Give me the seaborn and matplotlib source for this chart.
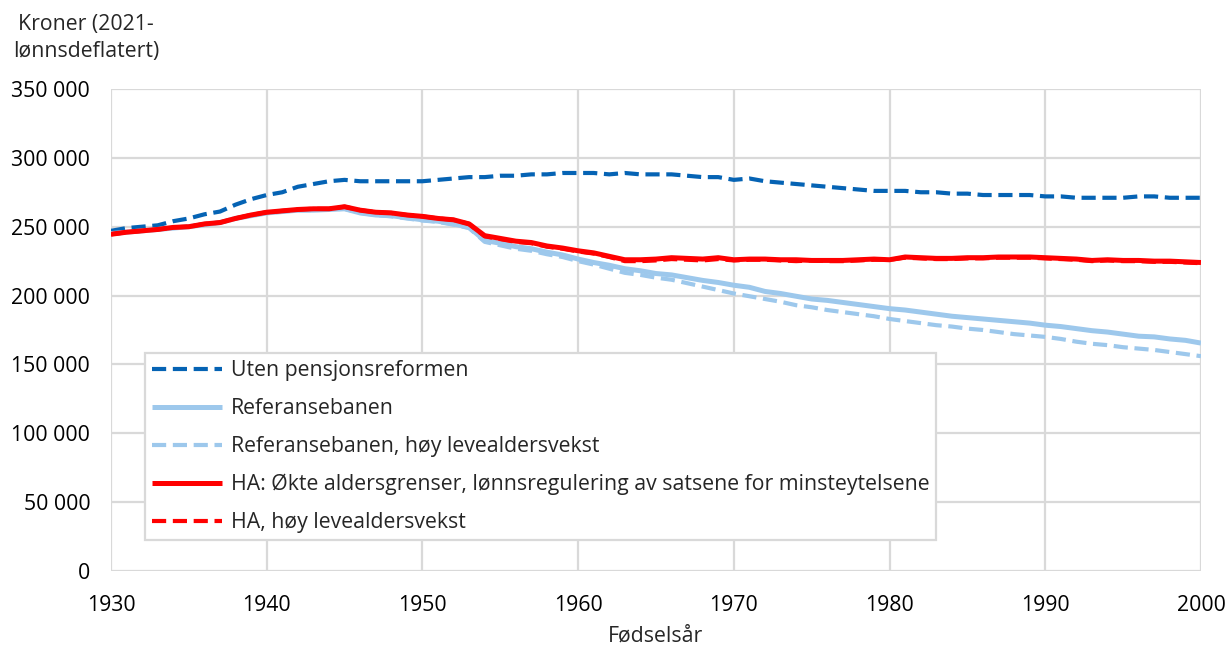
import numpy as np
import pandas as pd
import matplotlib
matplotlib.use("Agg")
import matplotlib.pyplot as plt
import seaborn as sns
from matplotlib.ticker import FuncFormatter, MultipleLocator

# Birth cohorts
years = list(range(1930, 2001))

# Average pension (thousand NOK, 2021 wage-deflated) per birth cohort
uten_reform = [
    247, 249, 250, 251, 254, 256, 259, 261, 266, 270,
    273, 275, 279, 281, 283, 284, 283, 283, 283, 283,
    283, 284, 285, 286, 286, 287, 287, 288, 288, 289,
    289, 289, 288, 289, 288, 288, 288, 287, 286, 286,
    284, 285, 283, 282, 281, 280, 279, 278, 277, 276,
    276, 276, 275, 275, 274, 274, 273, 273, 273, 273,
    272, 272, 271, 271, 271, 271, 272, 272, 271, 271,
    271,
]
referanse = [
    245, 246, 247, 248, 249, 250, 251.5, 253, 256, 258,
    260, 261, 262, 262, 262.5, 263, 260, 258.5, 258, 256.5,
    255, 254, 252, 249.5, 240, 238, 235.5, 234, 231.5, 229.5,
    226.5, 224, 222, 219.5, 218, 216, 215, 213, 211, 209.5,
    207.5, 206, 203, 201.5, 199.5, 197.5, 196.5, 195, 193.5, 192,
    190.5, 189.5, 188, 186.5, 185, 184, 183, 182, 181, 180,
    178.5, 177.5, 176, 174.5, 173.5, 172, 170.5, 170, 168.5, 167.5,
    165.5,
]
referanse_hoy = [
    244.5, 246, 247, 248, 249, 250, 251.5, 253, 256, 258,
    260, 261, 262, 262, 262.5, 263, 260, 258.5, 257.5, 256,
    254.5, 253.5, 251.5, 249, 239, 236.5, 234, 232.5, 230, 228,
    225, 222.5, 219.5, 216.5, 215, 213, 211.5, 209, 206.5, 204,
    201.5, 199.5, 197.5, 195.5, 193, 191.5, 189.5, 188, 186.5, 185,
    183, 181.5, 180, 178.5, 177.5, 176, 175, 173.5, 172, 171,
    170, 168.5, 166.5, 165, 164, 162.5, 161.5, 160.5, 159, 157.5,
    156,
]
ha = [
    244.5, 246, 247, 248, 249.5, 250, 252, 253, 256, 258.5,
    260.5, 261.5, 262.5, 263, 263, 264.5, 262, 260.5, 260, 258.5,
    257.5, 256, 255, 252, 243.5, 241.5, 239.5, 238.5, 236, 234.5,
    232.5, 231, 228.5, 226, 226, 226.5, 227.5, 227, 226.5, 227.5,
    226, 226.5, 226.5, 226, 226, 225.5, 225.5, 225.5, 226, 226.5,
    226, 228, 227.5, 227, 227, 227.5, 227.5, 228, 228, 228,
    227.5, 227, 226.5, 225.5, 226, 225.5, 225.5, 225, 225, 224.5,
    224,
]
ha_hoy = [
    244.5, 246, 247, 248, 249.5, 250, 252, 253, 256, 258.5,
    260.5, 261.5, 262.5, 263, 263, 264.5, 262, 260.5, 260, 258.5,
    257.5, 256, 255, 252, 243, 241, 239, 238, 235.5, 234,
    232, 230.5, 228, 225, 225, 225.5, 226.5, 226, 225.5, 226.5,
    225.5, 226, 226, 225.5, 225, 225.5, 225, 225, 225.5, 226,
    226, 227.5, 227, 226.5, 226.5, 227, 227, 227.5, 227.5, 227.5,
    227, 226.5, 226, 225, 225.5, 225, 225, 224.5, 224.5, 224,
    223.5,
]

labels = [
    "Uten pensjonsreformen",
    "Referansebanen",
    "Referansebanen, høy levealdersvekst",
    "HA: Økte aldersgrenser, lønnsregulering av satsene for minsteytelsene",
    "HA, høy levealdersvekst",
]
series = [uten_reform, referanse, referanse_hoy, ha, ha_hoy]

dark_blue = "#0563B4"
light_blue = "#9DC8EC"
red = "#FF0000"
styles = [
    (dark_blue, (3.4, 1.6), 3.0),
    (light_blue, None, 3.6),
    (light_blue, (3.4, 1.6), 3.0),
    (red, None, 3.6),
    (red, (3.4, 1.6), 3.0),
]

FS = 15.3

sns.set_theme(style="white")
plt.rcParams["font.family"] = ["Open Sans", "DejaVu Sans"]

fig = plt.figure(figsize=(12.29, 6.48), dpi=100)
ax = fig.add_axes([0.0903, 0.1188, 0.8869, 0.7439])

for name, vals, (col, dash, lw) in zip(labels, series, styles):
    df = pd.DataFrame({"år": years, "kr": np.array(vals) * 1000})
    sns.lineplot(data=df, x="år", y="kr", ax=ax, color=col, linewidth=lw,
                 label=name)
    ln = ax.get_lines()[-1]
    if dash is not None:
        ln.set_dashes(dash)
        ln.set_dash_capstyle("butt")
    ln.set_solid_capstyle("butt")

ax.set_xlim(1930, 2000)
ax.set_ylim(0, 350000)
ax.xaxis.set_major_locator(MultipleLocator(10))
ax.yaxis.set_major_locator(MultipleLocator(50000))
ax.yaxis.set_major_formatter(
    FuncFormatter(lambda v, _: f"{int(v):,}".replace(",", " "))
)
ax.grid(True, color="#d9d9d9", linewidth=1.6)
ax.set_axisbelow(True)
for sp in ax.spines.values():
    sp.set_visible(False)
ax.tick_params(axis="both", labelsize=FS, colors="black", length=0)
ax.tick_params(axis="x", pad=17)
ax.tick_params(axis="y", pad=15)
ax.set_xlabel("Fødselsår", fontsize=FS, labelpad=7)
ax.set_ylabel("")

fig.text(0.070, 0.979, "Kroner (2021-\nlønnsdeflatert)", ha="center", va="top",
         multialignment="center", fontsize=FS, linespacing=1.4)

leg = ax.legend(loc="lower left", bbox_to_anchor=(0.0312, 0.0635), fontsize=FS,
                frameon=True, fancybox=False, framealpha=1, borderpad=0.33,
                handlelength=3.3, handletextpad=0.4, labelspacing=0.8,
                borderaxespad=0)
leg.get_frame().set_edgecolor("#d9d9d9")
leg.get_frame().set_linewidth(1.6)

fig.savefig("out.png", dpi=100)
